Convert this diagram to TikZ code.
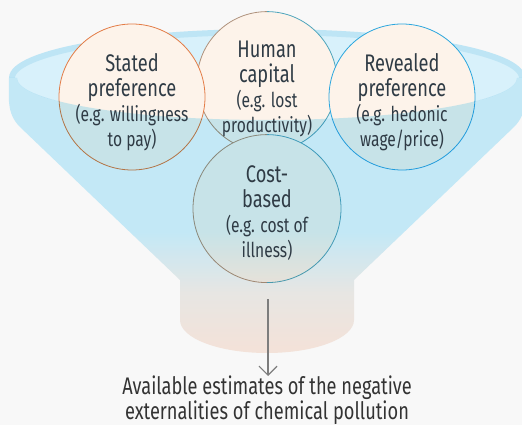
\documentclass[tikz,border=0pt]{standalone}
\usepackage{fontspec}
\setmainfont{Fira Sans}[FakeStretch=0.76]
\usetikzlibrary{arrows.meta}
\definecolor{PageGray}{RGB}{248,248,248}
\definecolor{RimBand}{RGB}{190,229,245}
\definecolor{RimInner}{RGB}{216,241,251}
\definecolor{Cream}{RGB}{253,243,234}
\definecolor{StatedOrange}{RGB}{227,123,69}
\definecolor{RevealedBlue}{RGB}{42,166,222}
\definecolor{CircBrown}{RGB}{176,146,124}
\definecolor{CircTeal}{RGB}{80,165,187}
\definecolor{FunnelBlue}{RGB}{201,239,253}
\definecolor{FunnelGray}{RGB}{238,237,234}
\definecolor{FunnelPeach}{RGB}{250,233,224}
\definecolor{Ink}{RGB}{47,59,69}
\definecolor{ArrowGray}{RGB}{125,125,125}
\pgfdeclareverticalshading{funnelshade}{100bp}{color(0bp)=(FunnelPeach); color(26bp)=(FunnelPeach); color(36bp)=(FunnelGray); color(47bp)=(FunnelBlue); color(100bp)=(FunnelBlue)}
\newcommand{\subtxt}{\fontsize{20.5}{21}\selectfont}
\tikzset{
  method/.style={circle,fill=Cream,inner sep=0pt,line width=0.8pt},
  methodtext/.style={align=center,inner sep=0pt,text=Ink,
    font=\fontsize{24}{25}\selectfont},
  flow/.style={-{Straight Barb[length=9pt,width=18pt]},line width=1.2pt,draw=ArrowGray}
}

\begin{document}
\begin{tikzpicture}[x=1pt,y=1pt]
  \useasboundingbox[fill=PageGray] (0,0) rectangle (522,-425);
  % rim, only the part behind the circles
  \begin{scope}
    \clip (0,0) -- (0,-78) -- (17,-78) arc (180:360:250 and 42) -- (530,-78) -- (530,0) -- cycle;
    \draw[draw=RimBand,fill=RimInner,line width=6pt] (267,-78) ellipse (255 and 46);
  \end{scope}

  % the four methods
  \node[method,minimum size=140pt] (human) at (267,-82) {};
  \draw[draw=CircBrown,line width=0.8pt] (human.north) arc (90:270:70);
  \draw[draw=CircTeal,line width=0.8pt] (human.north) arc (90:-90:70);
  \node[method,draw=StatedOrange,minimum size=146pt] (stated) at (132,-97) {};
  \node[method,draw=RevealedBlue,minimum size=146pt] (revealed) at (402,-97) {};
  \node[method,minimum size=148pt] (cost) at (267,-209) {};
  \draw[draw=CircBrown,line width=0.8pt] (cost.north) arc (90:270:74);
  \draw[draw=CircTeal,line width=0.8pt] (cost.north) arc (90:-90:74);

  % front of the funnel
  \shade[shading=funnelshade,blend mode=multiply] (9,-78) -- (17,-78) arc (180:360:250 and 42)
    -- (525,-78) to[out=-90,in=45] (514,-127) -- (354,-280) -- (354,-320)
    arc (0:-180:87 and 33) -- (180,-280) -- (20,-127) to[out=135,in=-90] (9,-78) -- cycle;

  \node[methodtext] (statedtext) at (132,-102.5) {Stated\\preference\\\subtxt(e.g. willingness\\\subtxt to pay)};
  \node[methodtext] (humantext) at (267,-88.5) {Human\\capital\\\subtxt(e.g. lost\\\subtxt productivity)};
  \node[methodtext] (revealedtext) at (402,-102.5) {Revealed\\preference\\\subtxt(e.g. hedonic\\\subtxt wage/price)};
  \node[methodtext] (costtext) at (267,-213.5) {Cost-\\based\\\subtxt(e.g. cost of\\\subtxt illness)};

  % outcome
  \coordinate (spout) at (268,-299);
  \node[methodtext,anchor=north,text=black!80] (result) at (267,-376)
    {Available estimates of the negative\\externalities of chemical pollution};
  \draw[flow] (spout) -- (spout |- result.north);
\end{tikzpicture}
\end{document}
